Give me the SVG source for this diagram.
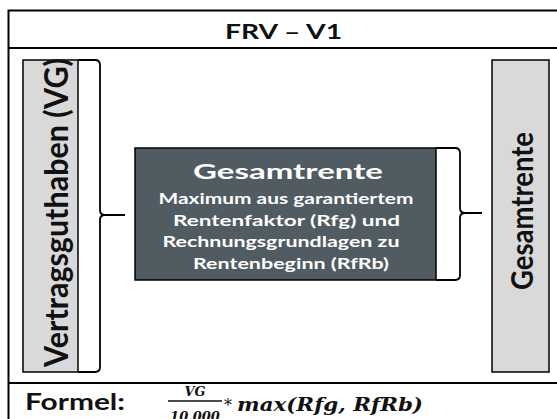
<svg xmlns="http://www.w3.org/2000/svg" width="557" height="419" viewBox="0 0 557 419">
<style>
  .frame { fill: none; stroke: #000; stroke-width: 2; }
  .side { fill: #d9d9d9; stroke: #000; stroke-width: 1.5; }
  .core { fill: #505b62; stroke: #000; stroke-width: 1.5; }
  .brace { fill: none; stroke: #000; stroke-width: 1.8; }
  .b { font-family: Lato, "Open Sans", "Liberation Sans", sans-serif; font-weight: bold; }
  .dark { fill: #111; }
  .white { fill: #fff; }
  .math { font-family: "DejaVu Serif", "Liberation Serif", serif; font-weight: bold; font-style: italic; fill: #111; }
</style>
<rect width="557" height="419" fill="#fff"/>
<g id="frame">
  <rect class="frame" x="8.5" y="10.5" width="560" height="420"/>
  <line class="frame" x1="8.5" y1="48" x2="557" y2="48"/>
  <line class="frame" x1="8.5" y1="383" x2="557" y2="383"/>
</g>
<g id="title">
  <text class="b dark" x="225" y="39" font-size="20.5" textLength="117" lengthAdjust="spacingAndGlyphs">FRV – V1</text>
</g>
<g id="vg">
  <rect class="side" x="23" y="60" width="55" height="312"/>
  <text class="b dark" transform="translate(68,212.5) rotate(-90)" text-anchor="middle" font-size="33" textLength="309" lengthAdjust="spacingAndGlyphs">Vertragsguthaben (VG)</text>
</g>
<g id="gesamtrente-core">
  <rect class="core" x="135" y="148" width="301" height="132"/>
  <text class="b white" x="288" y="179" text-anchor="middle" font-size="21.5" textLength="190" lengthAdjust="spacingAndGlyphs">Gesamtrente</text>
  <text class="b white" x="286" y="204" text-anchor="middle" font-size="14.5" textLength="255" lengthAdjust="spacingAndGlyphs">Maximum aus garantiertem</text>
  <text class="b white" x="286.5" y="226" text-anchor="middle" font-size="14.5" textLength="227" lengthAdjust="spacingAndGlyphs">Rentenfaktor (Rfg) und</text>
  <text class="b white" x="281" y="247" text-anchor="middle" font-size="14.5" textLength="237" lengthAdjust="spacingAndGlyphs">Rechnungsgrundlagen zu</text>
  <text class="b white" x="291" y="269" text-anchor="middle" font-size="14.5" textLength="196" lengthAdjust="spacingAndGlyphs">Rentenbeginn (RfRb)</text>
</g>
<g id="gesamtrente-out">
  <rect class="side" x="492" y="60" width="57" height="312"/>
  <text class="b dark" transform="translate(533,211) rotate(-90)" text-anchor="middle" font-size="30" textLength="158" lengthAdjust="spacingAndGlyphs">Gesamtrente</text>
</g>
<g id="connectors">
  <path class="brace" d="M78 60 H95 Q100 60 100 65 V210 Q100 215 105 215 H125 M105 215 Q100 215 100 220 V367 Q100 372 95 372 H78"/>
  <path class="brace" d="M436 148 H455 Q460 148 460 153 V208 Q460 213 465 213 H482 M465 213 Q460 213 460 218 V275 Q460 280 455 280 H436"/>
</g>
<g id="formula">
  <text class="b dark" x="25" y="410" font-size="22" textLength="100" lengthAdjust="spacingAndGlyphs">Formel:</text>
  <text class="math" x="195" y="396" text-anchor="middle" font-size="12" textLength="21" lengthAdjust="spacingAndGlyphs">VG</text>
  <line x1="168" y1="401" x2="222" y2="401" stroke="#111" stroke-width="1.3"/>
  <text class="math" x="195" y="421" text-anchor="middle" font-size="13" font-style="normal">10.000</text>
  <text x="228" y="411" font-family="DejaVu Serif, serif" font-size="16" fill="#111" text-anchor="middle">*</text>
  <text class="math" x="237" y="411" font-size="19" textLength="186" lengthAdjust="spacingAndGlyphs">max(Rfg, RfRb)</text>
</g>
</svg>
